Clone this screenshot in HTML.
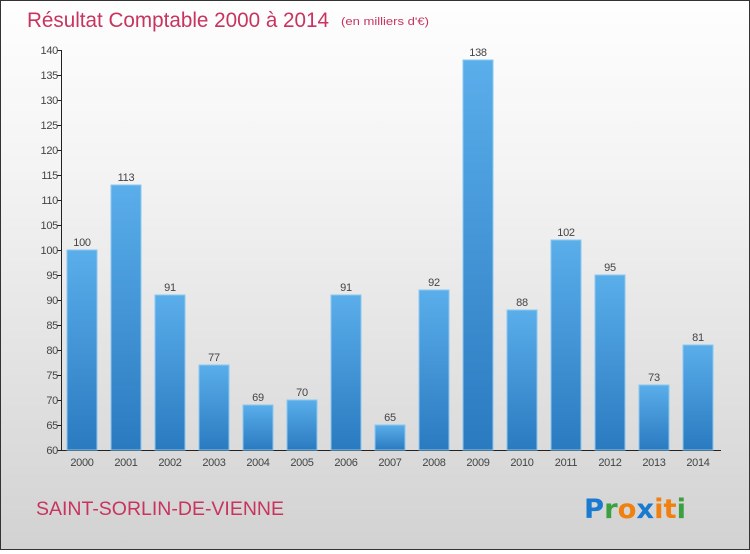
<!DOCTYPE html>
<html><head><meta charset="utf-8"><style>
body{margin:0;width:750px;height:550px;overflow:hidden}
#wrap{position:relative;width:748px;height:548px;border:1px solid #333;background:linear-gradient(#fefefe,#f4f4f4 30%,#d2d2d2);font-family:"Liberation Sans",sans-serif}
</style></head><body>
<div id="wrap">
<svg width="748" height="548" id="svg" font-family="'Liberation Sans',sans-serif">
<defs><linearGradient id="bg" x1="0" x2="0" y1="0" y2="1"><stop offset="0" stop-color="#5aaeea"/><stop offset="1" stop-color="#2a7ac0"/></linearGradient></defs>
<text x="26" y="26" font-size="21" fill="#c8345e" textLength="302" lengthAdjust="spacingAndGlyphs">Résultat Comptable 2000 à 2014</text>
<text x="340" y="24" font-size="11" fill="#c8345e" textLength="88" lengthAdjust="spacingAndGlyphs">(en milliers d'€)</text>
<text x="35" y="514" font-size="19" fill="#c8345e" textLength="248" lengthAdjust="spacingAndGlyphs">SAINT-SORLIN-DE-VIENNE</text>
<g font-size="27" font-weight="bold" font-family="'DejaVu Sans',sans-serif">
<text x="583" y="517" textLength="102" lengthAdjust="spacingAndGlyphs"><tspan fill="#1a7ad0">P</tspan><tspan fill="#3aa040">r</tspan><tspan fill="#f08010">o</tspan><tspan fill="#1a7ad0">x</tspan><tspan fill="#f08010">i</tspan><tspan fill="#f08010">t</tspan><tspan fill="#3aa040">i</tspan></text></g>
<g id="g"></g>
</svg></div>
<script>
const years=["2000","2001","2002","2003","2004","2005","2006","2007","2008","2009","2010","2011","2012","2013","2014"];
const values=[100,113,91,77,69,70,91,65,92,138,88,102,95,73,81];
const yTicks=[60,65,70,75,80,85,90,95,100,105,110,115,120,125,130,135,140];
const NS="http://www.w3.org/2000/svg",g=document.getElementById('g');
const y=v=>449-(v-60)*5, x=i=>81+i*44;
function mk(t,a,txt){const e=document.createElementNS(NS,t);for(const k in a)e.setAttribute(k,a[k]);if(txt!=null)e.textContent=txt;g.appendChild(e);return e;}
let e=mk('line',{x1:60.5,x2:60.5,y1:49,y2:449,stroke:'#222'});


e=mk('line',{x1:60,x2:720,y1:449.5,y2:449.5,stroke:'#222'});


yTicks.forEach(v=>{
 let t=mk('line',{x1:56,x2:61,y1:y(v)+.5,y2:y(v)+.5,stroke:'#222'});
 
 
 let l=mk('text',{x:57,y:y(v)+4,'font-size':11,fill:'#444','text-anchor':'end','letter-spacing':'-0.3'},v);
 
 
});
years.forEach((yr,i)=>{
 const v=values[i];
 let b=mk('rect',{x:x(i)-15,y:y(v),width:30,height:449-y(v),fill:'url(#bg)',stroke:'#8cc8f0','stroke-width':1});
 
 
 let l=mk('text',{x:x(i),y:y(v)-4,'font-size':11,fill:'#444','text-anchor':'middle','letter-spacing':'-0.3'},v);
 
 
 let xl=mk('text',{x:x(i),y:465,'font-size':11,fill:'#444','text-anchor':'middle','letter-spacing':'-0.3'},yr);
 
 
});
</script>
</body></html>
